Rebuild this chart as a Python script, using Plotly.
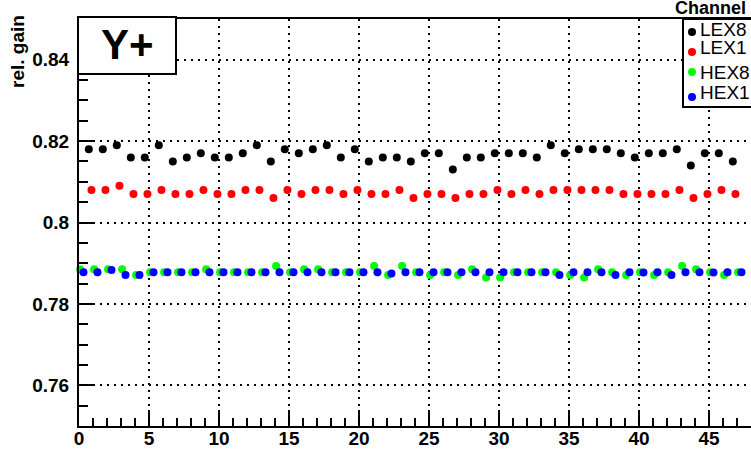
import plotly.graph_objects as go

# ---------------- data ----------------
channels = list(range(48))

lex8 = [0.818, 0.818, 0.819, 0.816, 0.816, 0.819, 0.815, 0.816, 0.817, 0.816,
        0.816, 0.817, 0.819, 0.815, 0.818, 0.817, 0.818, 0.819, 0.816, 0.818,
        0.815, 0.816, 0.816, 0.815, 0.817, 0.817, 0.813, 0.816, 0.816, 0.817,
        0.817, 0.817, 0.816, 0.819, 0.817, 0.818, 0.818, 0.818, 0.817, 0.816,
        0.817, 0.817, 0.818, 0.814, 0.817, 0.817, 0.815]

lex1 = [0.808, 0.808, 0.809, 0.807, 0.807, 0.808, 0.807, 0.807, 0.808, 0.807,
        0.807, 0.808, 0.808, 0.806, 0.808, 0.807, 0.808, 0.808, 0.807, 0.808,
        0.807, 0.807, 0.808, 0.806, 0.807, 0.807, 0.806, 0.807, 0.807, 0.808,
        0.807, 0.808, 0.807, 0.808, 0.808, 0.808, 0.808, 0.808, 0.807, 0.807,
        0.807, 0.807, 0.808, 0.806, 0.807, 0.808, 0.807]

hex8 = [0.7885, 0.7885, 0.7885, 0.7885, 0.7871, 0.7878, 0.7878, 0.7878, 0.7878, 0.7885,
        0.7878, 0.7878, 0.7878, 0.7878, 0.7893, 0.7878, 0.7885, 0.7885, 0.7878, 0.7878,
        0.7878, 0.7893, 0.7871, 0.7893, 0.7878, 0.7871, 0.7878, 0.7871, 0.7885, 0.7865,
        0.7865, 0.7878, 0.7878, 0.7878, 0.7878, 0.7871, 0.7865, 0.7885, 0.7878, 0.7871,
        0.7878, 0.7871, 0.7878, 0.7893, 0.7885, 0.7878, 0.7871, 0.7878]

hex1 = [0.7878, 0.7878, 0.7883, 0.7871, 0.7871, 0.7878, 0.7878, 0.7878, 0.7878, 0.7878,
        0.7878, 0.7878, 0.7878, 0.7878, 0.7878, 0.7878, 0.7878, 0.7878, 0.7878, 0.7878,
        0.7878, 0.7878, 0.7875, 0.7878, 0.7878, 0.7878, 0.7878, 0.7878, 0.7878, 0.7878,
        0.7878, 0.7878, 0.7878, 0.7878, 0.7871, 0.7878, 0.7878, 0.7878, 0.7871, 0.7878,
        0.7877, 0.7878, 0.7871, 0.7878, 0.7878, 0.7877, 0.7878, 0.7878]

series_names = ["LEX8", "LEX1", "HEX8", "HEX1"]
series_colors = ["#000000", "#ff0000", "#00ff00", "#0000ff"]

xtick_vals = [0, 5, 10, 15, 20, 25, 30, 35, 40, 45]
xtick_text = ["0", "5", "10", "15", "20", "25", "30", "35", "40", "45"]
ytick_vals = [0.76, 0.78, 0.80, 0.82, 0.84]
ytick_text = ["0.76", "0.78", "0.8", "0.82", "0.84"]

title_text = "Y+"
legend_title = "Channel"
ytitle = "rel. gain"

# ---------------- layout geometry ----------------
W, H = 751, 450
ML, MR, MT, MB = 79, 0, 19, 24
PW, PH = W - ML - MR, H - MT - MB


def px(x):
    return (x - ML) / PW


def py(y):
    return (H - MB - y) / PH


FONT = "Liberation Sans, Arial, sans-serif"

fig = go.Figure()

offsets = {"LEX8": 0.7, "LEX1": 0.89, "HEX8": 0.08, "HEX1": 0.32}
data_map = {"LEX8": lex8, "LEX1": lex1, "HEX8": hex8, "HEX1": hex1}
draw_order = ["HEX8", "HEX1", "LEX8", "LEX1"]
for name in draw_order:
    vals = data_map[name]
    col = series_colors[series_names.index(name)]
    fig.add_trace(go.Scatter(
        x=[c + offsets[name] for c in channels[:len(vals)]],
        y=vals,
        mode="markers",
        name=name,
        showlegend=False,
        marker=dict(color=col, size=8, line=dict(width=0)),
        cliponaxis=False,
    ))

grid_dash = "2px,5px"

fig.update_xaxes(
    range=[0, 48], showline=True, linewidth=2, linecolor="black", mirror=True,
    automargin=False,
    ticks="inside", ticklen=16, tickwidth=1.5, tickcolor="black",
    tickmode="array", tickvals=xtick_vals, ticktext=xtick_text,
    tickfont=dict(family=FONT, size=19, color="black", weight="bold"),
    ticklabelstandoff=-6,
    showgrid=True, gridcolor="black", gridwidth=1.5, griddash=grid_dash,
    zeroline=False,
    minor=dict(dtick=1, tick0=0, ticks="inside", ticklen=8, tickwidth=1.5,
               tickcolor="black", showgrid=False),
)
fig.update_yaxes(
    range=[0.75, 0.85], showline=True, linewidth=2, linecolor="black", mirror=False,
    automargin=False,
    ticks="inside", ticklen=16, tickwidth=1.5, tickcolor="black",
    tickmode="array", tickvals=ytick_vals, ticktext=ytick_text,
    tickfont=dict(family=FONT, size=19, color="black", weight="bold"),
    ticklabelstandoff=4,
    showgrid=True, gridcolor="black", gridwidth=1.5, griddash=grid_dash,
    zeroline=False,
    minor=dict(dtick=0.005, tick0=0.75, ticks="inside", ticklen=9, tickwidth=1.5,
               tickcolor="black", showgrid=False),
)

shapes = []
annotations = []

# Title box "Y+"
shapes.append(dict(type="rect", xref="paper", yref="paper",
                   x0=px(78), x1=px(176), y0=py(74), y1=py(17),
                   line=dict(color="black", width=2), fillcolor="white", layer="above"))
annotations.append(dict(text="<b>%s</b>" % title_text, xref="paper", yref="paper",
                        x=px(127), y=py(45), xanchor="center", yanchor="middle",
                        showarrow=False,
                        font=dict(family=FONT, size=42, color="black")))

# Y axis title
annotations.append(dict(text="<b>%s</b>" % ytitle, xref="paper", yref="paper",
                        x=px(18), y=py(52), xanchor="center", yanchor="middle",
                        textangle=-90, showarrow=False,
                        font=dict(family=FONT, size=19, color="black")))

# Legend box
shapes.append(dict(type="rect", xref="paper", yref="paper",
                   x0=px(683), x1=px(770), y0=py(107), y1=py(19),
                   line=dict(color="black", width=2), fillcolor="white", layer="above"))
annotations.append(dict(text="<b>%s</b>" % legend_title, xref="paper", yref="paper",
                        x=px(673), y=py(8), xanchor="left", yanchor="middle",
                        showarrow=False,
                        font=dict(family=FONT, size=18, color="black")))

marker_y = [32, 52, 72, 97]
text_y = [30, 47, 72, 93]
r = 4
for name, col, my, ty in zip(series_names, series_colors, marker_y, text_y):
    shapes.append(dict(type="circle", xref="paper", yref="paper",
                       x0=px(692 - r), x1=px(692 + r), y0=py(my + r), y1=py(my - r),
                       line=dict(width=0), fillcolor=col, layer="above"))
    annotations.append(dict(text=name, xref="paper", yref="paper",
                            x=px(699), y=py(ty), xanchor="left", yanchor="middle",
                            showarrow=False, borderpad=0,
                            font=dict(family=FONT, size=19, color="black")))

fig.update_layout(
    width=W, height=H,
    margin=dict(l=ML, r=MR, t=MT, b=MB, pad=0),
    paper_bgcolor="white", plot_bgcolor="white",
    shapes=shapes, annotations=annotations,
    showlegend=False,
)

fig.write_html(
    "out.html",
    config={"displayModeBar": False},
    post_script="document.body.style.margin='0px';document.body.style.padding='0px';",
)
